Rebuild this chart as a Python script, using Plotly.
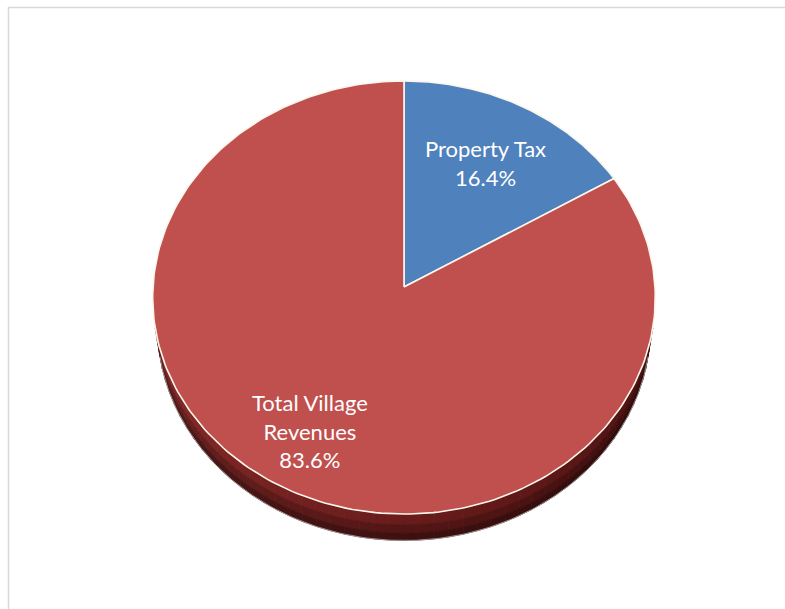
import numpy as np
import plotly.graph_objects as go

# ---- data ----
categories = ["Property Tax", "Total Village Revenues"]
shares = [16.4, 83.6]
label_lines = [["Property Tax"], ["Total Village", "Revenues"]]

# ---- styling ----
top_colors = ["#4F81BD", "#C0504D"]
label_radius = [0.68, 0.74]
W, H = 785, 609
CX, CY = 404, 287          # pixel position of the pie centre

# simple perspective camera looking down on a flat cylinder
ELEV = np.radians(59.4)
DIST = 10.49
FOCAL = 2633.0
THICK = 0.235
S, C = np.sin(ELEV), np.cos(ELEV)


def project(X, Y, Z):
    yc = Z * S + Y * C
    zc = DIST + Z * C - Y * S
    return FOCAL * X / zc, FOCAL * yc / zc


def rim(phi, y=0.0, r=1.0):
    # phi: radians, clockwise from 12 o'clock
    return project(r * np.sin(phi), np.full_like(phi, y), r * np.cos(phi))


def mix(c1, c2, t):
    return tuple(int(round(a + (b - a) * t)) for a, b in zip(c1, c2))


fig = go.Figure()

# ---- side wall (front, visible part) ----
phi_sil = np.arccos(-1.0 / (DIST * C))
n_seg = 48
edges = np.linspace(phi_sil, 2 * np.pi - phi_sil, n_seg + 1)
c_right = (74, 16, 15)
c_front = (104, 28, 27)
c_left = (136, 44, 42)
layers = [(0.0, 0.4, 1.0), (0.4, 0.72, 0.8), (0.72, 1.0, 0.6)]
for i in range(n_seg):
    a0, a1 = edges[i], edges[i + 1]
    t = (0.5 * (a0 + a1) - phi_sil) / (2 * np.pi - 2 * phi_sil)
    base = mix(c_right, c_front, t * 2) if t < 0.5 else mix(c_front, c_left, (t - 0.5) * 2)
    arc = np.linspace(a0, a1, 4)
    for y0f, y1f, k in layers:
        col = "rgb(%d,%d,%d)" % tuple(int(v * k) for v in base)
        xt, yt = rim(arc, -THICK * y0f)
        xb, yb = rim(arc[::-1], -THICK * y1f)
        fig.add_trace(go.Scatter(
            x=np.concatenate([xt, xb, xt[:1]]), y=np.concatenate([yt, yb, yt[:1]]),
            mode="lines", fill="toself", fillcolor=col,
            line=dict(color=col, width=0.8), hoverinfo="skip", showlegend=False))

# faint outline along the bottom edge of the wall
arc = np.linspace(phi_sil, 2 * np.pi - phi_sil, 200)
xb, yb = rim(arc, -THICK)
fig.add_trace(go.Scatter(x=xb, y=yb, mode="lines",
                         line=dict(color="rgba(190,190,190,0.7)", width=1),
                         hoverinfo="skip", showlegend=False))

# ---- top face slices ----
total = float(sum(shares))
start = 0.0
mids = []
for name, val, col in zip(categories, shares, top_colors):
    sweep = 2 * np.pi * val / total
    arc = np.linspace(start, start + sweep, 240)
    xr, yr = rim(arc)
    vx, vy = project(0.0, 0.0, 0.0)
    fig.add_trace(go.Scatter(
        x=np.concatenate([[vx], xr, [vx]]), y=np.concatenate([[vy], yr, [vy]]),
        mode="lines", fill="toself", fillcolor=col,
        line=dict(color="#fbf6ec", width=1.6), name=name,
        hoverinfo="skip", showlegend=False))
    mids.append(start + sweep / 2)
    start += sweep

# ---- labels ----
annotations = []
for lines, val, mid, rr in zip(label_lines, shares, mids, label_radius):
    lx, ly = project(rr * np.sin(mid), 0.0, rr * np.cos(mid))
    annotations.append(dict(
        x=float(lx), y=float(ly), xref="x", yref="y", showarrow=False,
        text="<br>".join(lines + ["%.1f%%" % val]),
        font=dict(family="Lato, 'Open Sans', sans-serif", size=22, color="white"),
        align="center"))

fig.update_layout(
    width=W, height=H, margin=dict(l=0, r=0, t=0, b=0),
    paper_bgcolor="white", plot_bgcolor="white",
    xaxis=dict(range=[-CX, W - CX], visible=False, fixedrange=True),
    yaxis=dict(range=[-(H - CY), CY], visible=False, fixedrange=True),
    annotations=annotations,
    shapes=[dict(type="rect", xref="paper", yref="paper",
                 x0=8.5 / W, x1=1.05, y0=-0.05, y1=1 - 7.5 / H,
                 line=dict(color="#d9d9d9", width=1.5))],
)

fig.write_html("out.html")
